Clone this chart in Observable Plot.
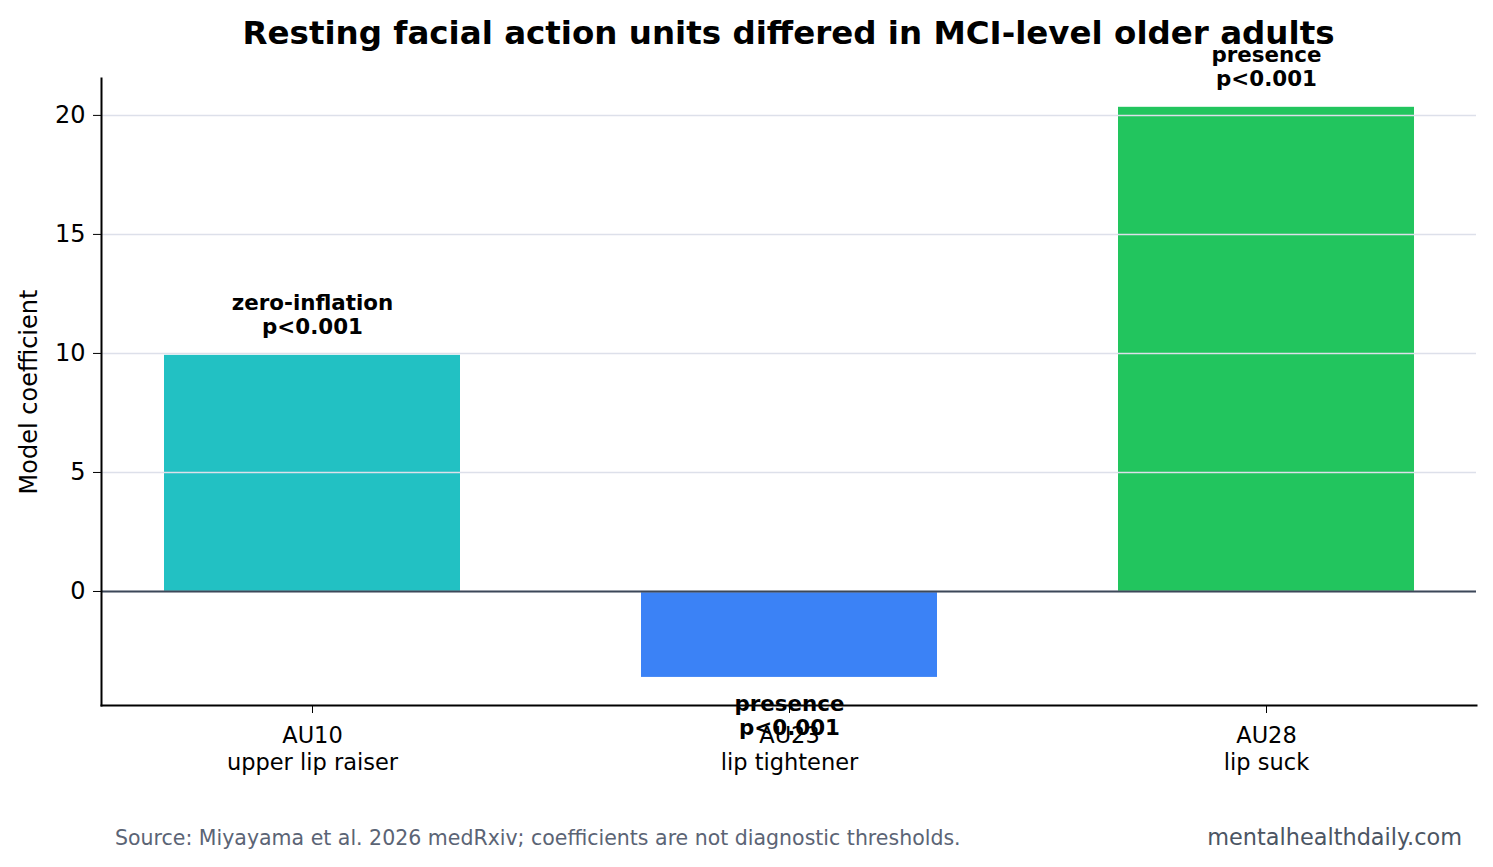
<!DOCTYPE html>
<html>
<head>
<meta charset="utf-8">
<script src="https://cdn.jsdelivr.net/npm/d3@7"></script>
<script src="https://cdn.jsdelivr.net/npm/@observablehq/plot@0.6"></script>
<style>
  html, body { margin: 0; padding: 0; background: white; }
  #wrap { position: relative; width: 1493px; height: 867px; font-family: "DejaVu Sans", sans-serif; overflow: hidden; }
  #chart { position: absolute; left: 0; top: 0; }
  #title { position: absolute; left: 101px; width: 1375px; top: 14px; text-align: center; font-weight: bold; font-size: 32.5px; color: #000; white-space: nowrap; }
  #source { position: absolute; left: 115px; top: 826px; font-size: 20.5px; color: #5b6475; white-space: nowrap; }
  #brand { position: absolute; right: 31px; top: 824px; font-size: 22.4px; color: #4b5563; white-space: nowrap; }
</style>
</head>
<body>
<div id="wrap">
  <div id="chart"></div>
  <div id="title">Resting facial action units differed in MCI-level older adults</div>
  <div id="source">Source: Miyayama et al. 2026 medRxiv; coefficients are not diagnostic thresholds.</div>
  <div id="brand">mentalhealthdaily.com</div>
</div>
<script>
const categories = ["AU10\nupper lip raiser", "AU23\nlip tightener", "AU28\nlip suck"];
const values = [9.92, -3.61, 20.34];
const colors = ["#22c1c3", "#3b82f6", "#22c55e"];
const annotations = ["zero-inflation\np<0.001", "presence\np<0.001", "presence\np<0.001"];
const yTicks = [0, 5, 10, 15, 20];

const data = categories.map((c, i) => ({cat: c, value: values[i], color: colors[i], ann: annotations[i]}));

const chart = Plot.plot({
  width: 1493,
  height: 790,
  marginLeft: 101,
  marginRight: 17,
  marginTop: 78,
  marginBottom: 85,
  style: {fontFamily: "DejaVu Sans", background: "transparent", color: "#000", overflow: "visible"},
  x: {domain: categories, paddingInner: 0.3795, paddingOuter: 0.131, label: null},
  y: {domain: [-4.79, 21.55], label: null},
  marks: [
    Plot.barY(data, {x: "cat", y: "value", fill: "color"}),
    Plot.ruleY(yTicks, {stroke: "#dde0ea", strokeWidth: 1.5}),
    Plot.ruleY([0], {stroke: "#3d4859", strokeWidth: 2}),
    Plot.axisY({ticks: yTicks, tickSize: 8, tickPadding: 8, fontSize: 24, label: "Model coefficient", labelAnchor: "center", labelArrow: "none", labelOffset: 82}),
    Plot.axisX({tickSize: 8, tickPadding: 10, fontSize: 22.5, lineHeight: 1.2}),
    Plot.text(data.filter(d => d.value >= 0), {x: "cat", y: "value", text: "ann", lineAnchor: "bottom", dy: -21, fontWeight: "bold", fontSize: 21.4, lineHeight: 1.12}),
    Plot.text(data.filter(d => d.value < 0), {x: "cat", y: "value", text: "ann", lineAnchor: "top", dy: 17, fontWeight: "bold", fontSize: 21.4, lineHeight: 1.12}),
    Plot.frame({anchor: "left", stroke: "#000", strokeWidth: 2}),
    Plot.frame({anchor: "bottom", stroke: "#000", strokeWidth: 2})
  ]
});
document.getElementById("chart").appendChild(chart);
</script>
</body>
</html>
